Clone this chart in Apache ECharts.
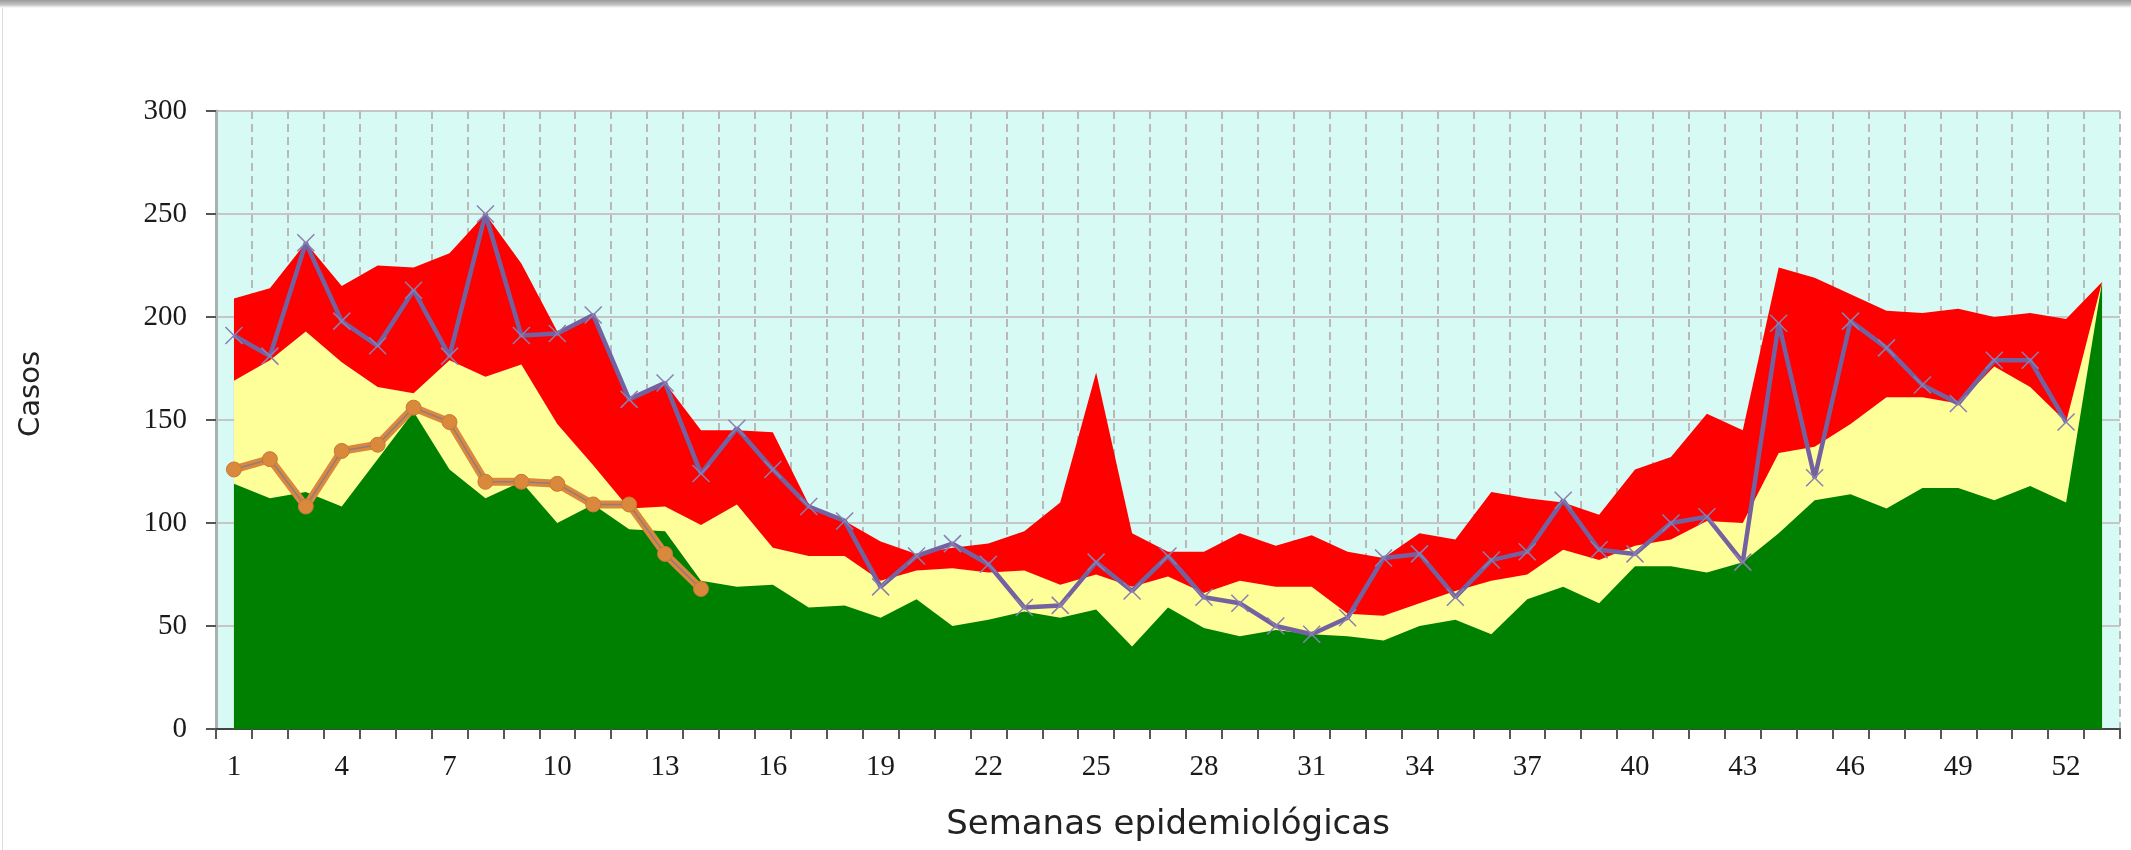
<!DOCTYPE html>
<html>
<head>
<meta charset="utf-8">
<script src="https://cdn.jsdelivr.net/npm/echarts@6/dist/echarts.min.js"></script>
<style>
  html, body { margin: 0; padding: 0; background: #fff; }
  #chart { width: 2131px; height: 850px; }
</style>
</head>
<body>
<div id="chart"></div>
<script>
// semanas epidemiologicas
const semanas = ['1','2','3','4','5','6','7','8','9','10','11','12','13','14','15','16','17','18','19','20',
  '21','22','23','24','25','26','27','28','29','30','31','32','33','34','35','36','37','38','39','40',
  '41','42','43','44','45','46','47','48','49','50','51','52','53'];

// zona epidemica / alerta (rojo)
const zonaRoja = [209, 214, 236, 215, 225, 224, 231, 250, 226, 193, 201, 161, 168, 145, 145, 144, 109, 101, 91, 85,
  88, 90, 96, 110, 173, 95, 86, 86, 95, 89, 94, 86, 83, 95, 92, 115, 112, 110, 104, 126,
  132, 153, 145, 224, 219, 211, 203, 202, 204, 200, 202, 199, 217];
// zona de seguridad (amarillo)
const zonaAmarilla = [169, 179, 193, 178, 166, 163, 179, 171, 177, 148, 128, 107, 108, 99, 109, 88, 84, 84, 72, 77,
  78, 76, 77, 70, 75, 69, 74, 66, 72, 69, 69, 56, 55, 61, 67, 72, 75, 87, 82, 89,
  92, 101, 100, 134, 137, 148, 161, 161, 158, 176, 166, 149, 217];
// zona de exito (verde)
const zonaVerde = [119, 112, 115, 108, 131, 154, 126, 112, 120, 100, 109, 97, 96, 72, 69, 70, 59, 60, 54, 63,
  50, 53, 57, 54, 58, 40, 59, 49, 45, 48, 46, 45, 43, 50, 53, 46, 63, 69, 61, 79,
  79, 76, 81, 95, 111, 114, 107, 117, 117, 111, 118, 110, 217];
// año anterior
const casosAnterior = [191, 181, 236, 198, 186, 213, 181, 250, 191, 192, 201, 160, 168, 124, 146, 126, 108, 101, 69, 84,
  90, 80, 59, 60, 81, 67, 84, 64, 61, 50, 46, 54, 83, 85, 64, 82, 86, 111, 87, 85,
  100, 103, 81, 197, 122, 198, 185, 167, 158, 179, 179, 149];
// año actual
const casosActual = [126, 131, 108, 135, 138, 156, 149, 120, 120, 119, 109, 109, 85, 68];

const yTicks = [0, 50, 100, 150, 200, 250, 300];

const chart = echarts.init(document.getElementById('chart'));

function area(name, data, color) {
  return {
    name, type: 'line', data,
    showSymbol: false, silent: true,
    lineStyle: { width: 0 },
    areaStyle: { color, opacity: 1 }
  };
}

const option = {
  animation: false,
  grid: {
    left: 216, right: 11, top: 111, bottom: 121,
    show: true, backgroundColor: '#d7faf4', borderWidth: 0
  },
  graphic: [
    {
      type: 'rect', left: 0, top: 0, z: 100,
      shape: { width: 2131, height: 8 },
      style: {
        fill: new echarts.graphic.LinearGradient(0, 0, 0, 1, [
          { offset: 0, color: '#9a9a9a' },
          { offset: 0.6, color: '#c4c4c4' },
          { offset: 1, color: '#ffffff' }
        ])
      }
    },
    {
      type: 'rect', left: 0, top: 0, z: -1,
      shape: { width: 2130, height: 849 },
      style: { fill: 'none', stroke: '#dddddd', lineWidth: 1 }
    }
  ],
  xAxis: {
    type: 'category',
    data: semanas,
    boundaryGap: true,
    name: 'Semanas epidemiológicas',
    nameLocation: 'middle',
    nameGap: 79,
    nameTextStyle: { fontFamily: 'DejaVu Sans', fontSize: 34, color: '#222' },
    axisLine: { lineStyle: { color: '#444', width: 2 } },
    axisTick: { show: true, length: 10, interval: 0, lineStyle: { color: '#555', width: 2 } },
    axisLabel: {
      interval: 2, margin: 24,
      fontFamily: 'Liberation Serif', fontSize: 29, color: '#1a1a1a'
    },
    splitLine: {
      show: true, interval: 0,
      lineStyle: { color: '#b9b9b9', width: 2, type: [8, 5] }
    }
  },
  yAxis: {
    type: 'value',
    min: yTicks[0], max: yTicks[yTicks.length - 1], interval: 50,
    name: 'Casos',
    nameLocation: 'middle',
    nameGap: 170,
    nameTextStyle: { fontFamily: 'DejaVu Sans', fontSize: 29, color: '#222', padding: [0, 0, 0, 52] },
    axisLine: { show: true, lineStyle: { color: '#a9b1b1', width: 3 } },
    axisTick: { show: true, length: 10, lineStyle: { color: '#555', width: 2 } },
    axisLabel: {
      margin: 29,
      fontFamily: 'Liberation Serif', fontSize: 29, color: '#1a1a1a'
    },
    splitLine: { show: true, lineStyle: { color: '#c6c6c6', width: 2 } }
  },
  series: [
    area('Epidemia', zonaRoja, '#ff0000'),
    area('Seguridad', zonaAmarilla, '#ffff99'),
    area('Éxito', zonaVerde, '#008000'),
    {
      name: 'Año anterior', type: 'line', data: casosAnterior,
      symbol: 'path://M0,0L10,10M10,0L0,10', symbolSize: 17,
      lineStyle: { color: '#7462a0', width: 4.5 },
      itemStyle: { color: '#8a7fb0', borderColor: '#8a7fb0', borderWidth: 1.5 }
    },
    {
      name: 'Año actual', type: 'line', data: casosActual,
      showSymbol: false,
      lineStyle: { color: '#d9883c', width: 8 }
    },
    {
      name: 'Año actual borde', type: 'line', data: casosActual,
      showSymbol: false,
      lineStyle: { color: '#8f7b8a', width: 1.5 }
    },
    {
      name: 'Año actual puntos', type: 'line', data: casosActual,
      symbol: 'circle', symbolSize: 15,
      lineStyle: { width: 0 },
      itemStyle: { color: '#d9883c', borderColor: '#c87a35', borderWidth: 1 }
    }
  ]
};

chart.setOption(option);
</script>
</body>
</html>
